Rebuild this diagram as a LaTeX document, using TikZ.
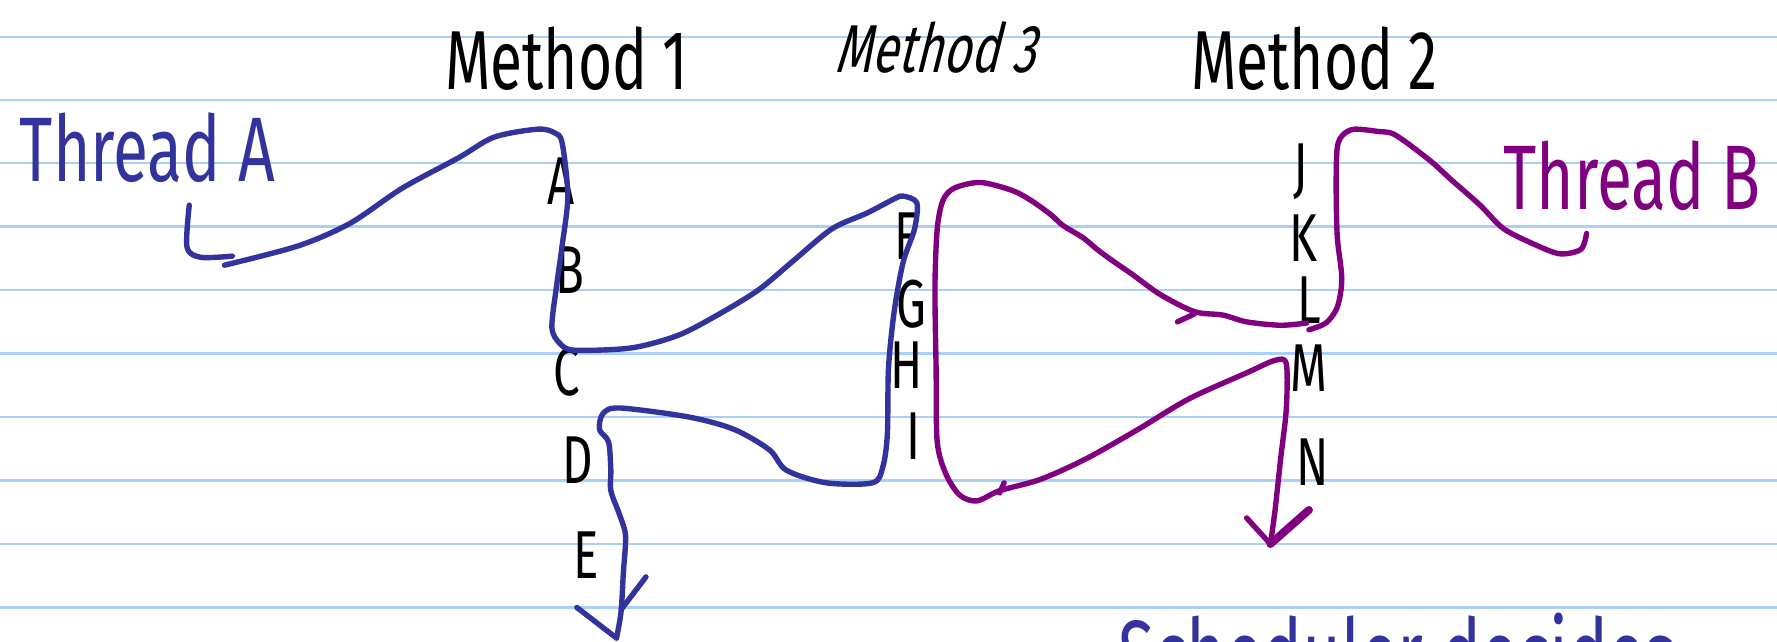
\documentclass[tikz,border=0pt]{standalone}
\usepackage{fontspec}
\usepackage{xcolor}
\newfontfamily\hand[FakeStretch=0.7]{Fira Sans}
\newfontfamily\handsl[FakeStretch=0.7,FakeSlant=0.25]{Fira Sans}
\definecolor{rulec}{HTML}{A8D0F8}
\definecolor{threada}{HTML}{33339E}
\definecolor{threadb}{HTML}{800080}

\begin{document}
\begin{tikzpicture}[x=0.01cm, y=-0.01cm,
      ink/.style={line width=1.35pt, line join=round, line cap=round},
      pena/.style={ink, draw=threada}, penb/.style={ink, draw=threadb},
      lbl/.style={font=\hand\fontsize{17}{17}\selectfont, inner sep=0pt},
      title/.style={font=\hand\fontsize{21}{21}\selectfont, inner sep=0pt}]
    \useasboundingbox (0,0) rectangle (1568,566);
    \clip (0,0) rectangle (1568,566);
    \fill[white] (0,0) rectangle (1568,566);
    % ruled paper
    \foreach \y in {32.5,88,144,200,256,312,368,424,480,536}
      \draw[rulec, line width=0.6pt] (0,\y) -- (1568,\y);
    % headings
    \node[title] (m1) at (500,52) {Method 1};
    \node[title, font=\handsl\fontsize{17}{17}\selectfont] (m3) at (825,42) {Method 3};
    \node[title] (m2) at (1160,52) {Method 2};
    \node[title, text=threada, font=\hand\fontsize{23}{23}\selectfont] (ta) at (130,130) {Thread A};
    \node[title, text=threadb, font=\hand\fontsize{23}{23}\selectfont] (tb) at (1440,155) {Thread B};
    \node[title, text=threada, anchor=north, font=\hand\fontsize{24}{24}\selectfont] (sched) at (1233,540) {Scheduler decides};
    % steps
    \foreach \n/\x/\y in {A/495/160, B/503/238, C/500/328, D/510/406, E/517/490,
                          F/800/208, G/804/268, H/800/322, I/806/385,
                          J/1148/152, K/1150/210, L/1155/265, M/1155/325, N/1158/408}
      \node[lbl] (\n) at (\x,\y) {\n};
    % thread A
    \coordinate (aEnd) at (544,563);
    \draw[pena] plot[smooth] coordinates {(167,181) (165,218) (177,227) (205,226)};
    \draw[pena] plot[smooth, tension=0.5] coordinates {(198,234) (263,217) (309,197)
      (355,166) (405,139) (436,121) (474,114) (489,117) (496,126) (501,173) (496,217)
      (491,253) (487,289) (494,303) (507,309) (557,307) (598,296) (633,278) (669,256)
      (699,231) (734,202) (765,188) (790,175) (797,173) (809,179) (807,202) (797,231)
      (789,275) (784,325) (783,383) (779,412) (770,426) (729,426) (694,415) (679,397)
      (648,379) (608,368) (547,360) (532,365) (529,379) (537,390) (539,415) (539,433)
      (547,455) (552,473) (550,506) (548,540) (aEnd)};
    \draw[pena] (509,536) -- (aEnd);
    \draw[pena] (570,509) -- (548,538);
    % thread B
    \coordinate (bEnd) at (1121,480);
    \draw[penb] plot[smooth, tension=0.5] coordinates {(1400,206) (1395,220) (1377,224)
      (1357,217) (1327,202) (1306,181) (1281,159) (1261,141) (1231,119) (1216,116)
      (1195,114) (1185,119) (1180,130) (1179,163) (1180,209) (1184,246) (1180,271)
      (1170,285) (1155,291)};
    \draw[penb] plot[smooth, tension=0.5] coordinates {(1153,285) (1130,287) (1100,284)
      (1079,278) (1054,275) (1024,260) (999,242) (983,231) (968,220) (956,210)
      (938,199) (928,190) (910,177) (893,168) (865,161) (842,166) (832,177) (827,202)
      (825,253) (826,325) (827,390) (835,419) (847,437) (862,442) (882,433) (918,423)
      (958,405) (1004,379) (1049,352) (1100,329) (1125,318) (1135,321) (1135,361)
      (1130,405) (1125,451) (bEnd)};
    \draw[penb] (1039,284) -- (1054,277);
    \draw[penb] (882,435) -- (886,426);
    \draw[penb] (1100,457) -- (bEnd);
    \draw[penb, line width=2pt] (1155,450) -- (bEnd);
  \end{tikzpicture}
\end{document}
